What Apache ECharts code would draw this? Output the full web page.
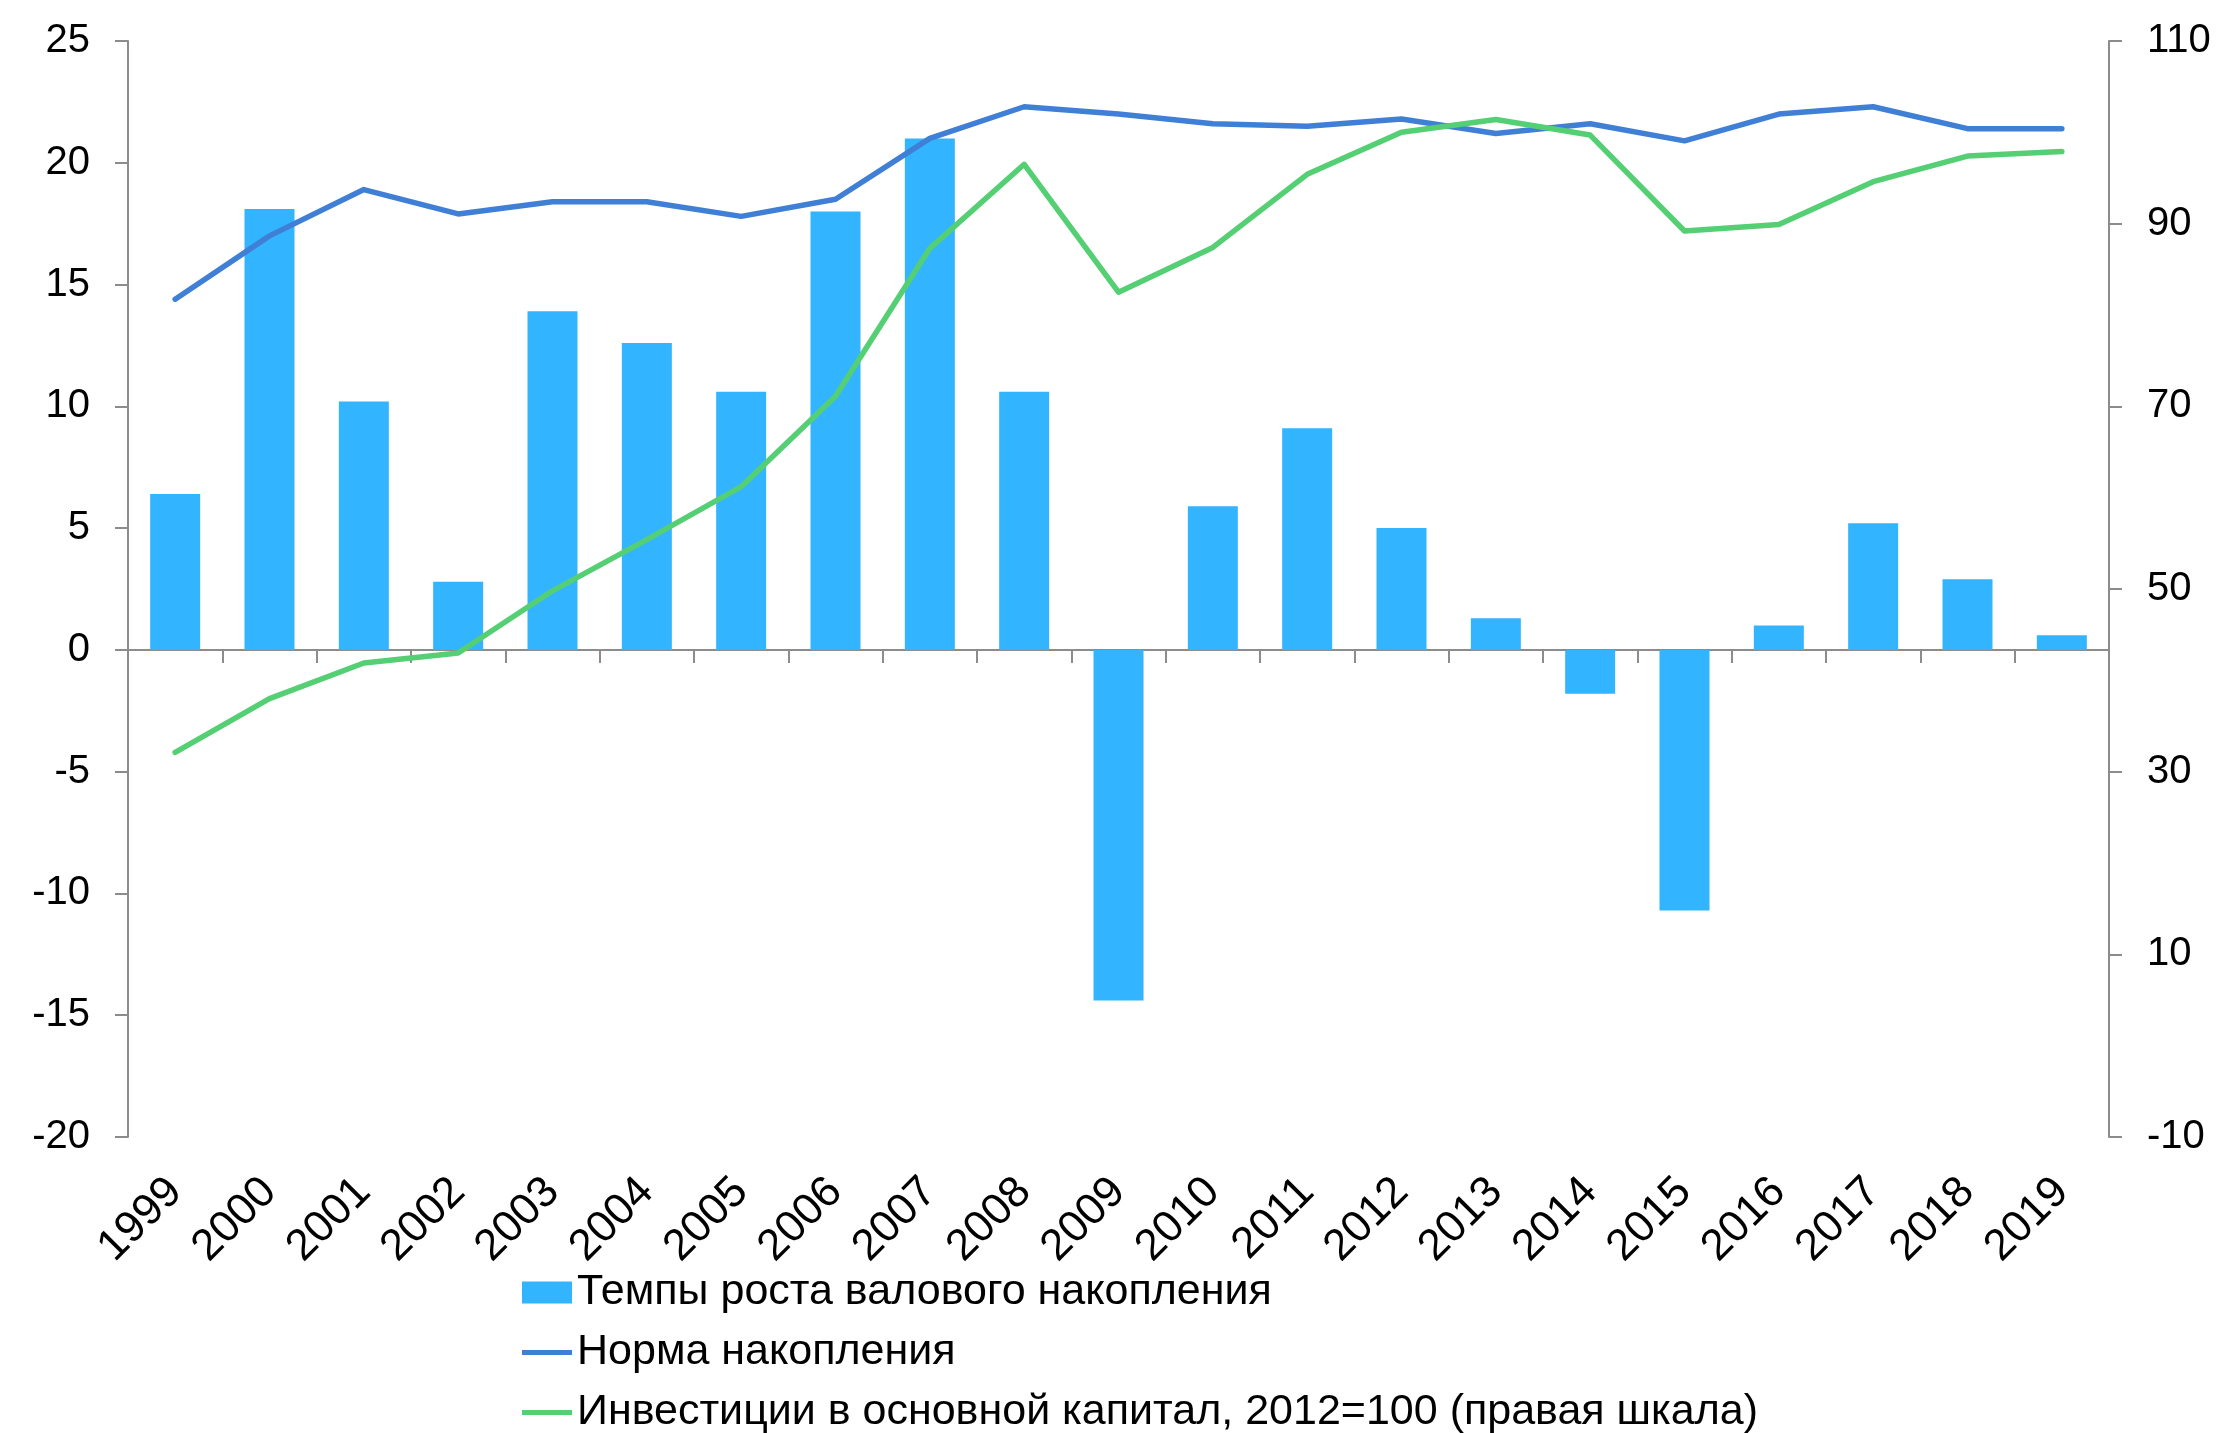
<!DOCTYPE html>
<html><head><meta charset="utf-8">
<script src="https://cdn.jsdelivr.net/npm/echarts@6/dist/echarts.min.js"></script>
<style>html,body{margin:0;padding:0;background:#fff}#c{width:2225px;height:1433px}</style>
</head><body><div id="c"></div>
<script>
const years = ['1999','2000','2001','2002','2003','2004','2005','2006','2007','2008','2009','2010','2011','2012','2013','2014','2015','2016','2017','2018','2019'];
const grossGrowth = [6.4,18.1,10.2,2.8,13.9,12.6,10.6,18.0,21.0,10.6,-14.4,5.9,9.1,5.0,1.3,-1.8,-10.7,1.0,5.2,2.9,0.6];
const accumRate = [14.4,17.0,18.9,17.9,18.4,18.4,17.8,18.5,21.0,22.3,22.0,21.6,21.5,21.8,21.2,21.6,20.9,22.0,22.3,21.4,21.4];
const investment = [32.1,38.0,41.9,43.0,49.8,55.4,61.2,71.1,87.3,96.5,82.5,87.4,95.4,100.0,101.4,99.7,89.2,89.9,94.6,97.4,97.9];
const names = ['Темпы роста валового накопления','Норма накопления','Инвестиции в основной капитал, 2012=100 (правая шкала)'];
const FONT = '"Liberation Sans", Arial, sans-serif';
const axisCol = '#8c8c8c';
const lineIcon = 'path://M0,8.5H50V13.5H0Z M0,0H0.01V0.01H0Z M0,22H0.01V22.01H0Z';
const chart = echarts.init(document.getElementById('c'), null, {renderer:'canvas'});
chart.setOption({
  animation:false,
  backgroundColor:'#fff',
  textStyle:{fontFamily:FONT},
  grid:{left:128,right:116,top:41,bottom:296},
  legend:{
    orient:'vertical', left:522, top:1271, height:200, padding:0,
    itemWidth:50, itemHeight:22, itemGap:17,
    textStyle:{fontSize:43, color:'#000', fontFamily:FONT, lineHeight:43},
    data:[{name:names[0], icon:'rect'},{name:names[1], icon:lineIcon},{name:names[2], icon:lineIcon}]
  },
  xAxis:[
    {type:'category', data:years, position:'bottom',
     axisLine:{show:true,onZero:true,onZeroAxisIndex:0,lineStyle:{color:axisCol,width:2}},
     axisTick:{show:true,length:13,lineStyle:{color:axisCol,width:2}},
     axisLabel:{show:false}, splitLine:{show:false}},
    {type:'category', data:years, position:'bottom',
     axisLine:{show:false,onZero:false}, axisTick:{show:false},
     axisLabel:{show:true,rotate:45,margin:48,fontSize:44,color:'#000',fontFamily:FONT,interval:0},
     splitLine:{show:false}}
  ],
  yAxis:[
    {type:'value', min:-20, max:25, interval:5, position:'left',
     axisLine:{show:true,lineStyle:{color:axisCol,width:2}},
     axisTick:{show:true,length:13,lineStyle:{color:axisCol,width:2}},
     axisLabel:{fontSize:40,color:'#000',margin:38,fontFamily:FONT},
     splitLine:{show:false}},
    {type:'value', min:-10, max:110, interval:20, position:'right',
     axisLine:{show:true,lineStyle:{color:axisCol,width:2}},
     axisTick:{show:true,length:13,lineStyle:{color:axisCol,width:2}},
     axisLabel:{fontSize:40,color:'#000',margin:38,fontFamily:FONT},
     splitLine:{show:false}}
  ],
  series:[
    {name:names[0], type:'bar', data:grossGrowth, xAxisIndex:0, yAxisIndex:0, barWidth:50,
     itemStyle:{color:'#33B4FF'}},
    {name:names[1], type:'line', data:accumRate, xAxisIndex:0, yAxisIndex:0, symbol:'none',
     lineStyle:{color:'#3F80D6',width:5.5,cap:'round',join:'round'}, itemStyle:{color:'#3F80D6'}},
    {name:names[2], type:'line', data:investment, xAxisIndex:0, yAxisIndex:1, symbol:'none',
     lineStyle:{color:'#55CF73',width:5.5,cap:'round',join:'round'}, itemStyle:{color:'#55CF73'}}
  ]
});
</script></body></html>
